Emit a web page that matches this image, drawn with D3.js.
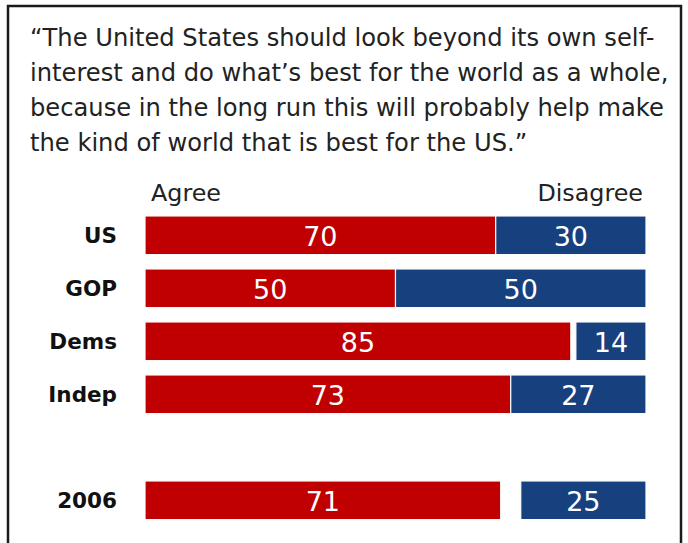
<!DOCTYPE html>
<html>
<head>
<meta charset="utf-8">
<script src="https://cdn.jsdelivr.net/npm/d3@7"></script>
<style>
  html, body { margin: 0; padding: 0; background: #fff; }
  svg { display: block; }
</style>
</head>
<body>
<div id="chart"></div>
<script>
const titleLines = [
  "\u201CThe United States should look beyond its own self-",
  "interest and do what\u2019s best for the world as a whole,",
  "because in the long run this will probably help make",
  "the kind of world that is best for the US.\u201D"
];
const categories = ["US", "GOP", "Dems", "Indep", "2006"];
const agree = [70, 50, 85, 73, 71];
const disagree = [30, 50, 14, 27, 25];
const legendLabels = ["Agree", "Disagree"];

const W = 688, H = 543;
const RED = "#C00000", BLUE = "#17407E";
const FONT = "'DejaVu Sans', sans-serif";

const svg = d3.select("#chart").append("svg")
  .attr("width", W).attr("height", H);

svg.append("rect").attr("width", W).attr("height", H).attr("fill", "#fff");

// frame (open at the bottom, like the cropped original)
svg.append("path")
  .attr("d", "M8,548V6H681V548")
  .attr("fill", "none")
  .attr("stroke", "#1a1a1a")
  .attr("stroke-width", 2.5);

// title
svg.append("g").selectAll("text")
  .data(titleLines).join("text")
  .attr("x", 30)
  .attr("y", (d, i) => 46 + i * 35)
  .attr("font-family", FONT)
  .attr("font-size", 24.2)
  .attr("fill", "#222")
  .text(d => d);

// scales
const x = d3.scaleLinear().domain([0, 100]).range([145, 646]);
const slots = ["US", "GOP", "Dems", "Indep", "__gap__", "2006"];
const y = d3.scaleBand().domain(slots)
  .range([208.8, 526.8])
  .paddingInner(0.27)
  .paddingOuter(0.135);

const rows = categories.map((c, i) => ({ cat: c, agree: agree[i], disagree: disagree[i] }));

// legend headers
svg.append("text")
  .attr("x", x(0) + 6).attr("y", 201)
  .attr("font-family", FONT).attr("font-size", 23.8).attr("fill", "#222")
  .text(legendLabels[0]);
svg.append("text")
  .attr("x", x(100) - 3).attr("y", 201)
  .attr("text-anchor", "end")
  .attr("font-family", FONT).attr("font-size", 23.8).attr("fill", "#222")
  .text(legendLabels[1]);

const g = svg.append("g");

// agree bars
g.selectAll("rect.agree").data(rows).join("rect")
  .attr("class", "agree")
  .attr("x", d => x(0))
  .attr("y", d => y(d.cat))
  .attr("width", d => x(d.agree) - x(0))
  .attr("height", y.bandwidth())
  .attr("fill", RED)
  .attr("stroke", "#fff").attr("stroke-width", 1.2);

// disagree bars (anchored at the right end)
g.selectAll("rect.disagree").data(rows).join("rect")
  .attr("class", "disagree")
  .attr("x", d => x(100 - d.disagree))
  .attr("y", d => y(d.cat))
  .attr("width", d => x(100) - x(100 - d.disagree))
  .attr("height", y.bandwidth())
  .attr("fill", BLUE)
  .attr("stroke", "#fff").attr("stroke-width", 1.2);

// value labels
g.selectAll("text.va").data(rows).join("text")
  .attr("class", "va")
  .attr("x", d => (x(0) + x(d.agree)) / 2)
  .attr("y", d => y(d.cat) + y.bandwidth() / 2 + 11)
  .attr("text-anchor", "middle")
  .attr("font-family", FONT).attr("font-size", 27).attr("fill", "#fff")
  .text(d => d.agree);

g.selectAll("text.vd").data(rows).join("text")
  .attr("class", "vd")
  .attr("x", d => (x(100 - d.disagree) + x(100)) / 2)
  .attr("y", d => y(d.cat) + y.bandwidth() / 2 + 11)
  .attr("text-anchor", "middle")
  .attr("font-family", FONT).attr("font-size", 27).attr("fill", "#fff")
  .text(d => d.disagree);

// category labels
g.selectAll("text.cat").data(rows).join("text")
  .attr("class", "cat")
  .attr("x", 117)
  .attr("y", d => y(d.cat) + y.bandwidth() / 2 + 8)
  .attr("text-anchor", "end")
  .attr("font-family", FONT).attr("font-weight", "bold")
  .attr("font-size", 21.5).attr("fill", "#111")
  .text(d => d.cat);
</script>
</body>
</html>
